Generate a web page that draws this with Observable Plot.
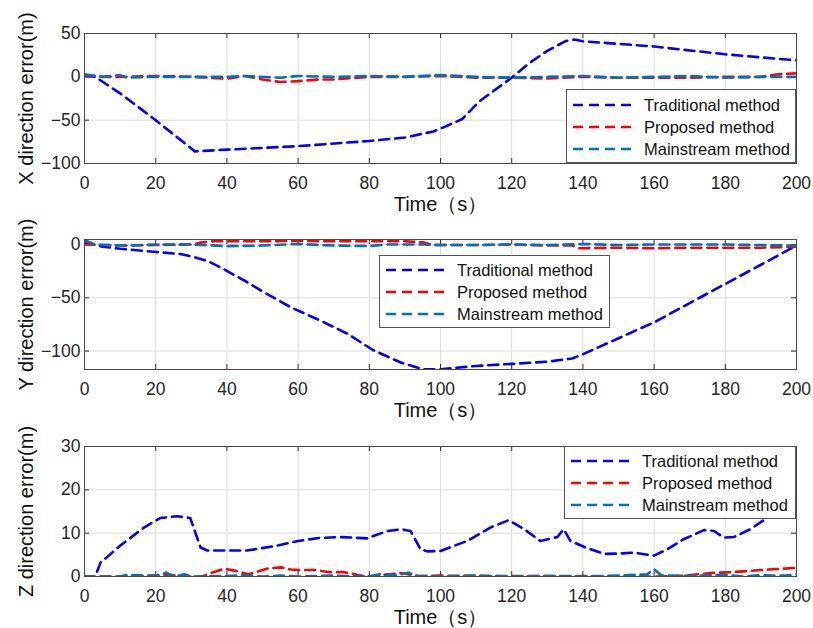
<!DOCTYPE html>
<html>
<head>
<meta charset="utf-8">
<script src="https://cdn.jsdelivr.net/npm/d3@7"></script>
<script src="https://cdn.jsdelivr.net/npm/@observablehq/plot@0.6"></script>
<style>
  body { margin: 0; background: #fff; }
  #wrap { position: relative; width: 813px; height: 628px; overflow: hidden; font-family: "Liberation Sans", Arial, sans-serif; }
  .panel { position: absolute; left: 0; }
  .legend { position: absolute; background: #fff; border: 1px solid #555; box-sizing: border-box; }
  .legend .row { position: absolute; left: 0; height: 20px; display: flex; align-items: center; }
  .legend .row span { font-size: 16.5px; color: #111; margin-left: 10px; white-space: nowrap; }
</style>
</head>
<body>
<div id="wrap"></div>
<script>
// ---------- data ----------
const seriesNames = ["Traditional method", "Proposed method", "Mainstream method"];
const seriesColors = ["#0000ff", "#ff0000", "#0072bd"];
const xTicks = [0, 20, 40, 60, 80, 100, 120, 140, 160, 180, 200];
const xLabel = "Time（s）";

// X direction error (m): [time, value]
const xTraditional = [[0,1],[3,0],[10,-19],[20,-50],[31,-86],[40,-84],[60,-80],[80,-74],[90,-70],[98,-63],[101,-58],[106,-49],[111,-28],[120,-1],[125,16],[130,30],[135,41],[137.5,43],[140,41],[160,35],[180,26],[200,19]];
const xProposed = [[0,2],[5,0],[10,0],[20,1],[30,0],[35,-1],[40,-2],[45,1],[50,-3],[55,-6],[60,-5],[66,-3],[70,-3],[80,0],[90,0],[100,1],[110,-1],[120,-1],[130,-2],[140,0],[150,-1],[160,-1],[170,-1],[180,0],[190,0],[195,3],[200,4]];
const xMainstream = [[0,3],[5,0],[10,2],[12,-1],[20,0],[30,0],[40,0],[45,1],[55,-1],[60,1],[70,0],[80,1],[90,0],[100,2],[110,0],[120,-1],[130,0],[140,1],[150,-1],[160,0],[170,1],[180,-1],[190,0],[200,0]];
const yTicksX = [-100, -50, 0, 50];

// Y direction error (m)
const yTraditional = [[0,2],[5,-2],[10,-4],[20,-7],[27,-9],[31,-12],[35,-16],[39,-23],[45,-34],[50,-44],[58,-59],[66,-71],[74,-84],[81,-99],[89,-111],[95,-117],[100,-117],[110,-114],[120,-112],[130,-110],[137,-107],[140,-103],[150,-88],[160,-73],[170,-55],[180,-37],[190,-19],[200,-1]];
const yProposed = [[0,0],[10,-1],[20,-0.5],[30,0],[33,2],[36,3],[50,3],[60,3.5],[70,3],[80,3],[90,3],[95,2],[98,-0.5],[110,-0.5],[120,0],[130,-1],[137,-1],[139,-3.5],[150,-3],[160,-3.5],[170,-3],[180,-3],[190,-3],[200,-2]];
const yMainstream = [[0,4],[3,0],[10,-1],[20,0],[30,0],[40,-1.5],[50,-1],[60,0.5],[70,-1],[80,-1.5],[85,0],[95,0],[100,-0.5],[110,-0.5],[120,0],[130,-0.5],[140,0.5],[150,-0.5],[160,0],[170,0],[180,0],[190,-0.5],[200,-1]];
const yTicksY = [-100, -50, 0];

// Z direction error (m)
const zTraditional = [[0,0],[3,0],[4.5,3.2],[10,7.1],[16.7,11.3],[21.3,13.5],[26,13.9],[29.7,13.5],[32.6,6.7],[34.5,6],[45.7,6],[54,7.1],[60,8.2],[66,8.9],[72,9.1],[79.4,8.8],[85,10.5],[89,10.9],[91.6,10.5],[94.4,6.3],[96.3,5.8],[100,5.9],[107.5,8.2],[114,11.3],[119.2,13],[123.4,11],[128,8.2],[132.8,9.1],[134.6,10.9],[136.5,8.2],[140.7,6.7],[146,5.2],[150,5.3],[154.3,5.5],[160,4.8],[163.7,6.3],[168.3,8.6],[174,10.7],[176.8,10.5],[179.6,9],[182.4,9.1],[187,10.9],[191.7,13.5],[200,17]];
const zProposed = [[0,0],[5,0],[10,0],[21,0.3],[24,0.4],[28.6,0],[33,0],[34.5,0.5],[39.2,1.8],[42.5,1.3],[46,0.5],[51.6,1.9],[55.4,2.1],[58,1.6],[60,1.5],[64.6,1.5],[69,1],[73,1],[76.6,0.4],[79.4,0],[84,0.4],[89,0.8],[91.6,0.4],[94,0.1],[100,0.2],[120,0.1],[140,0.1],[160,0],[168,0.15],[175.8,0.8],[182,1],[190,1.5],[200,2]];
const zMainstream = [[0,0],[10,0],[12,0.4],[20,0.1],[23,0.9],[25,0],[28,0.5],[30,0],[40,0.1],[45,0.3],[50,0],[55,0.2],[60,0],[70,0.2],[80,0],[83,0.5],[88,0.3],[91,0.9],[93,0.1],[100,0],[110,0.2],[120,0],[130,0.1],[140,0],[150,0.2],[158,0.5],[160,1.7],[162,0.3],[170,0.1],[180,0.4],[185,0],[190,0.3],[197,0.2],[200,0.5]];
const yTicksZ = [0, 10, 20, 30];

// ---------- layout ----------
const panels = [
  { top: 0,   height: 216, mt: 33, mb: 53, domain: [-100, 50],    ticks: yTicksX, label: "X direction error(m)", series: [xTraditional, xProposed, xMainstream],
    legend: { left: 566, top: 89, width: 230, height: 74, rows: [16, 38, 60] } },
  { top: 210, height: 216, mt: 29, mb: 57, domain: [-117.3, 4.7], ticks: yTicksY, label: "Y direction error(m)", series: [yTraditional, yProposed, yMainstream],
    legend: { left: 379, top: 255, width: 231, height: 73, rows: [15, 37, 59] } },
  { top: 420, height: 208, mt: 26, mb: 52, domain: [0, 30],       ticks: yTicksZ, label: "Z direction error(m)", series: [zTraditional, zProposed, zMainstream],
    legend: { left: 564, top: 446, width: 232, height: 73, rows: [15, 37, 59] } }
];

const W = 813, ML = 84, MR = 17;
const dash = "10,6";
const wrap = document.getElementById("wrap");

panels.forEach(p => {
  const innerH = p.height - p.mt - p.mb;
  const innerW = W - ML - MR;
  const marks = [
    Plot.gridX(xTicks, { stroke: "#dcdcdc", strokeOpacity: 1 }),
    Plot.gridY(p.ticks, { stroke: "#dcdcdc", strokeOpacity: 1 }),
    // inward tick marks (MATLAB style) on all four sides
    Plot.ruleX(xTicks, { x: d => d, insetTop: innerH - 5, stroke: "#333" }),
    Plot.ruleX(xTicks, { x: d => d, insetBottom: innerH - 5, stroke: "#333" }),
    Plot.ruleY(p.ticks, { y: d => d, insetRight: innerW - 5, stroke: "#333" }),
    Plot.ruleY(p.ticks, { y: d => d, insetLeft: innerW - 5, stroke: "#333" }),
    Plot.axisX(xTicks, { tickSize: 0, tickPadding: 13, fontSize: 17.5, label: null }),
    Plot.axisY(p.ticks, { tickSize: 0, tickPadding: 4, fontSize: 17.5, label: null, tickFormat: d => d < 0 ? "\u2212" + Math.abs(d) : String(d) }),
    Plot.text([xLabel], { frameAnchor: "bottom", dy: 47, lineAnchor: "bottom", textAnchor: "middle", fontSize: 20, fill: "#111" }),
    Plot.text([p.label], { frameAnchor: "left", rotate: -90, dx: -66, lineAnchor: "top", textAnchor: "middle", fontSize: 20, fill: "#111" })
  ];
  p.series.forEach((s, i) => {
    marks.push(Plot.line(s, { x: d => d[0], y: d => d[1], stroke: seriesColors[i], strokeWidth: 2.6, strokeDasharray: dash, clip: true }));
  });
  marks.push(Plot.frame({ stroke: "#4a4a4a", strokeWidth: 1 }));

  const chart = Plot.plot({
    width: W, height: p.height,
    marginLeft: ML, marginRight: MR, marginTop: p.mt, marginBottom: p.mb,
    x: { domain: [0, 200] },
    y: { domain: p.domain },
    style: { background: "transparent", color: "#262626", fontFamily: "'Liberation Sans', Arial, sans-serif", overflow: "visible" },
    marks
  });
  const holder = document.createElement("div");
  holder.className = "panel";
  holder.style.top = p.top + "px";
  holder.appendChild(chart);
  wrap.appendChild(holder);
});

// legends (drawn after panels so they sit on top)
panels.forEach(p => {
  const L = p.legend;
  const box = d3.select(wrap).append("div").attr("class", "legend")
    .style("left", L.left + "px").style("top", L.top + "px")
    .style("width", L.width + "px").style("height", L.height + "px");
  seriesNames.forEach((name, i) => {
    const row = box.append("div").attr("class", "row").style("top", (L.rows[i] - 11) + "px").style("left", "5px");
    const svg = row.append("svg").attr("width", 62).attr("height", 20);
    svg.append("line").attr("x1", 1).attr("x2", 61).attr("y1", 10).attr("y2", 10)
      .attr("stroke", seriesColors[i]).attr("stroke-width", 2.6).attr("stroke-dasharray", dash);
    row.append("span").text(name);
  });
});
</script>
</body>
</html>
